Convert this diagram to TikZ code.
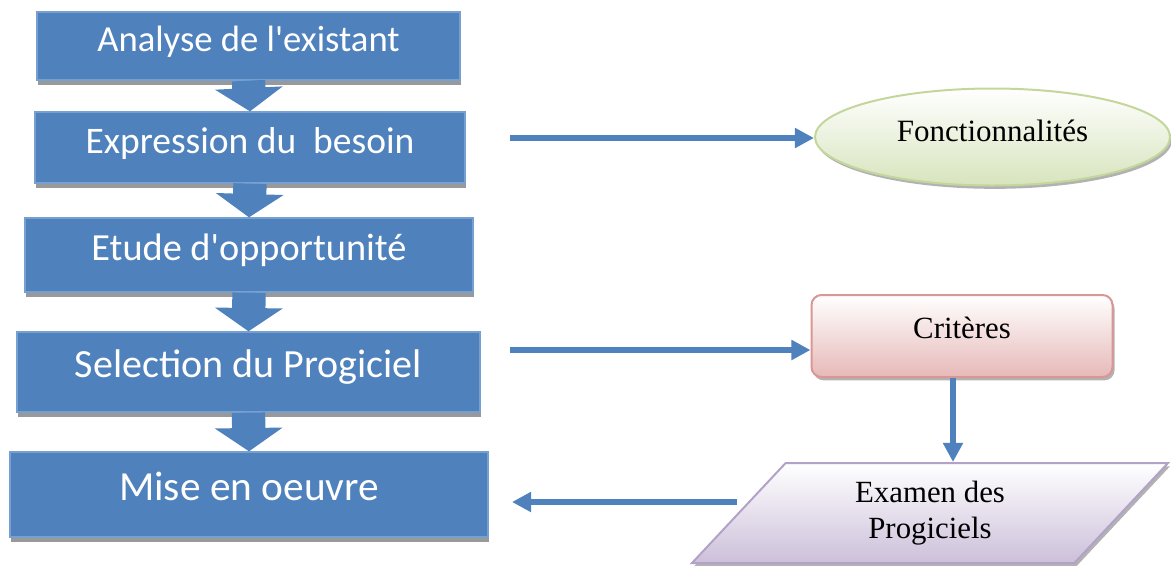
\documentclass[tikz,border=0pt]{standalone}
\usepackage{fontspec}
\setmainfont{Liberation Serif}
\newfontfamily\stepfont{Carlito}
\usepackage{tikz}
\usetikzlibrary{shapes.geometric, arrows.meta, positioning, calc, shadows}
\definecolor{stepblue}{RGB}{79,129,189}
\definecolor{stepedge}{RGB}{118,160,210}
\definecolor{linkblue}{RGB}{79,129,189}
\definecolor{fonctfill}{RGB}{215,228,189}
\definecolor{fonctedge}{RGB}{195,214,155}
\definecolor{critfill}{RGB}{230,185,184}
\definecolor{critedge}{RGB}{217,150,148}
\definecolor{examfill}{RGB}{204,192,218}
\definecolor{examedge}{RGB}{179,162,199}
\tikzset{
  stepbox/.style={rectangle, fill=stepblue, draw=stepedge, line width=0.8pt,
    text=white, inner sep=0pt, text height=15pt, text depth=8pt,
    drop shadow={shadow xshift=0.6pt, shadow yshift=-3pt, fill=black, opacity=0.4}},
  stepsize/.style={font=\stepfont\fontsize{#1}{#1}\selectfont},
  downarrow/.style={stepblue, line width=20pt, -{Triangle[width=40pt, length=14pt]}},
  link/.style={linkblue, line width=3.6pt, -{Triangle[width=11.5pt, length=11.5pt]}},
  sideshadow/.style={drop shadow={shadow xshift=1.2pt, shadow yshift=-2pt, fill=black, opacity=0.3}},
  fonct/.style={ellipse, draw=fonctedge, line width=1.2pt, top color=white, bottom color=fonctfill,
    font=\fontsize{18.6}{22}\selectfont, text height=12pt, text depth=7pt, sideshadow},
  crit/.style={rectangle, rounded corners=6pt, draw=critedge, line width=1.2pt,
    top color=white, bottom color=critfill,
    font=\fontsize{18.5}{22}\selectfont, text height=12pt, text depth=9.6pt, sideshadow},
  exam/.style={trapezium, trapezium left angle=39, trapezium right angle=141,
    trapezium stretches body, draw=examedge, line width=1.2pt,
    top color=white, bottom color=examfill, align=center,
    font=\fontsize{18.5}{22}\selectfont, sideshadow}
}

\begin{document}
\begin{tikzpicture}[x=0.6pt, y=-0.6pt]
  \useasboundingbox (0,0) rectangle (1171,565);
  % Process steps (left column)
  \node[stepbox, stepsize=22pt, minimum width=253.8pt, minimum height=40.8pt] (b1) at (248.5,46) {Analyse de l'existant};
  \node[stepbox, stepsize=22.5pt, minimum width=258pt, minimum height=42.6pt] (b2) at (250,147.5) {Expression du\ \ besoin};
  \node[stepbox, stepsize=23pt, minimum width=268.8pt, minimum height=44.4pt] (b3) at (249,255) {Etude d'opportunit\'e};
  \node[stepbox, stepsize=24pt, minimum width=277.8pt, minimum height=48pt] (b4) at (248.5,372) {Selection du Progiciel};
  \node[stepbox, stepsize=24.8pt, minimum width=286.8pt, minimum height=51pt] (b5) at (249,494.5) {Mise en oeuvre};

  % Block arrows between steps
  \foreach \a/\b in {b1/b2, b2/b3, b3/b4, b4/b5}
    \draw[downarrow] (\a.south) -- (\b.north);

  % Right column
  \node[fonct, minimum width=213pt, minimum height=58.2pt] (fonc) at (992.5,137) {Fonctionnalit\'es};
  \node[crit, minimum width=180.6pt, minimum height=49.2pt] (crit) at (962,336) {Crit\`eres};
  \node[exam, minimum width=285.6pt, minimum height=60pt] (exam) at (930,513) {Examen des\\Progiciels};

  % Links
  \coordinate (f0) at (510,138);
  \coordinate (c0) at (510,350);
  \coordinate (m0) at (512,502);
  \draw[link] (f0) -- (f0 -| fonc.west);
  \draw[link] (c0) -- (c0 -| crit.west);
  \draw[link] ([xshift=-5.4pt]crit.south) -- ([xshift=-5.4pt]crit.south |- exam.north);
  \draw[link] (m0 -| exam.west) -- (m0);
\end{tikzpicture}
\end{document}
